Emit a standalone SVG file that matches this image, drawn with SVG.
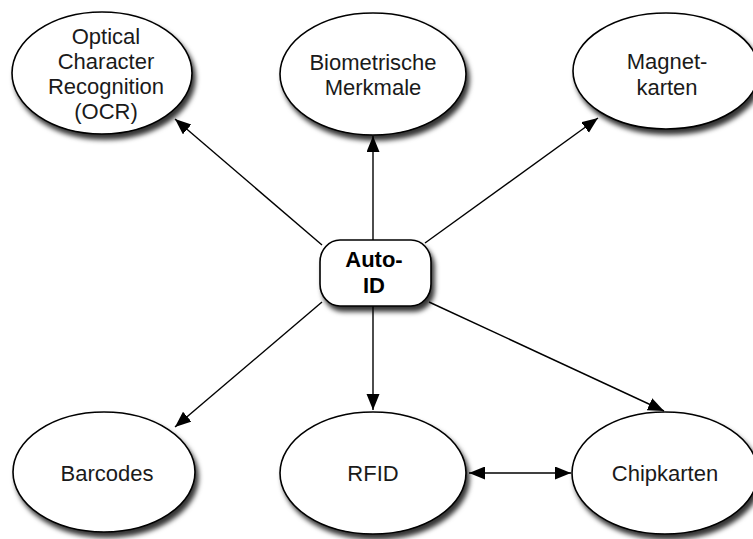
<svg xmlns="http://www.w3.org/2000/svg" width="753" height="539" viewBox="0 0 753 539">
<style>
.n{fill:#fff;stroke:#000;stroke-width:1.6;filter:url(#sh)}
.t{font-family:"Liberation Sans",Arial,sans-serif;font-size:22px;fill:#1a1a1a;text-anchor:middle}
.b{font-weight:bold;fill:#000}
.c{stroke:#000;stroke-width:1.4;fill:none}
</style>
<defs>
<filter id="sh" x="-20%" y="-20%" width="150%" height="150%">
<feDropShadow dx="3" dy="5" stdDeviation="2.5" flood-color="#000" flood-opacity="0.8"/>
</filter>
<marker id="ah" markerUnits="userSpaceOnUse" markerWidth="18" markerHeight="14" refX="16" refY="6.5" orient="auto">
<path d="M0,0 L16,6.5 L0,13 z" fill="#000"/>
</marker>
<marker id="as" markerUnits="userSpaceOnUse" markerWidth="18" markerHeight="14" refX="0" refY="6.5" orient="auto">
<path d="M16,0 L0,6.5 L16,13 z" fill="#000"/>
</marker>
</defs>
<rect width="753" height="539" fill="#fff"/>
<g id="connectors">
<line class="c" x1="322" y1="245" x2="175" y2="119" marker-end="url(#ah)"/>
<line class="c" x1="373" y1="240" x2="373" y2="136" marker-end="url(#ah)"/>
<line class="c" x1="425" y1="243" x2="598" y2="118" marker-end="url(#ah)"/>
<line class="c" x1="322" y1="302" x2="175" y2="427" marker-end="url(#ah)"/>
<line class="c" x1="373" y1="306" x2="373" y2="410" marker-end="url(#ah)"/>
<line class="c" x1="429" y1="302" x2="664" y2="411" marker-end="url(#ah)"/>
<line class="c" x1="469" y1="473" x2="571" y2="473" marker-start="url(#as)" marker-end="url(#ah)"/>
</g>
<g id="ocr">
<ellipse class="n" cx="102" cy="73" rx="90" ry="61"/>
<text class="t" x="106" y="44">Optical</text>
<text class="t" x="106" y="69">Character</text>
<text class="t" x="106" y="94">Recognition</text>
<text class="t" x="106" y="119">(OCR)</text>
</g>
<g id="biometrische">
<ellipse class="n" cx="373" cy="74" rx="93" ry="61"/>
<text class="t" x="373" y="70">Biometrische</text>
<text class="t" x="373" y="95">Merkmale</text>
</g>
<g id="magnetkarten">
<ellipse class="n" cx="666" cy="71" rx="93" ry="58"/>
<text class="t" x="667" y="69">Magnet-</text>
<text class="t" x="667" y="95">karten</text>
</g>
<g id="autoid">
<rect class="n" x="320" y="240" width="111" height="66" rx="20" ry="22"/>
<text class="t b" x="374" y="267">Auto-</text>
<text class="t b" x="374" y="293">ID</text>
</g>
<g id="barcodes">
<ellipse class="n" cx="104" cy="472" rx="91" ry="60"/>
<text class="t" x="107" y="481">Barcodes</text>
</g>
<g id="rfid">
<ellipse class="n" cx="373" cy="473" rx="93" ry="61"/>
<text class="t" x="373" y="481">RFID</text>
</g>
<g id="chipkarten">
<ellipse class="n" cx="665" cy="473" rx="93" ry="61"/>
<text class="t" x="665" y="481">Chipkarten</text>
</g>
</svg>
